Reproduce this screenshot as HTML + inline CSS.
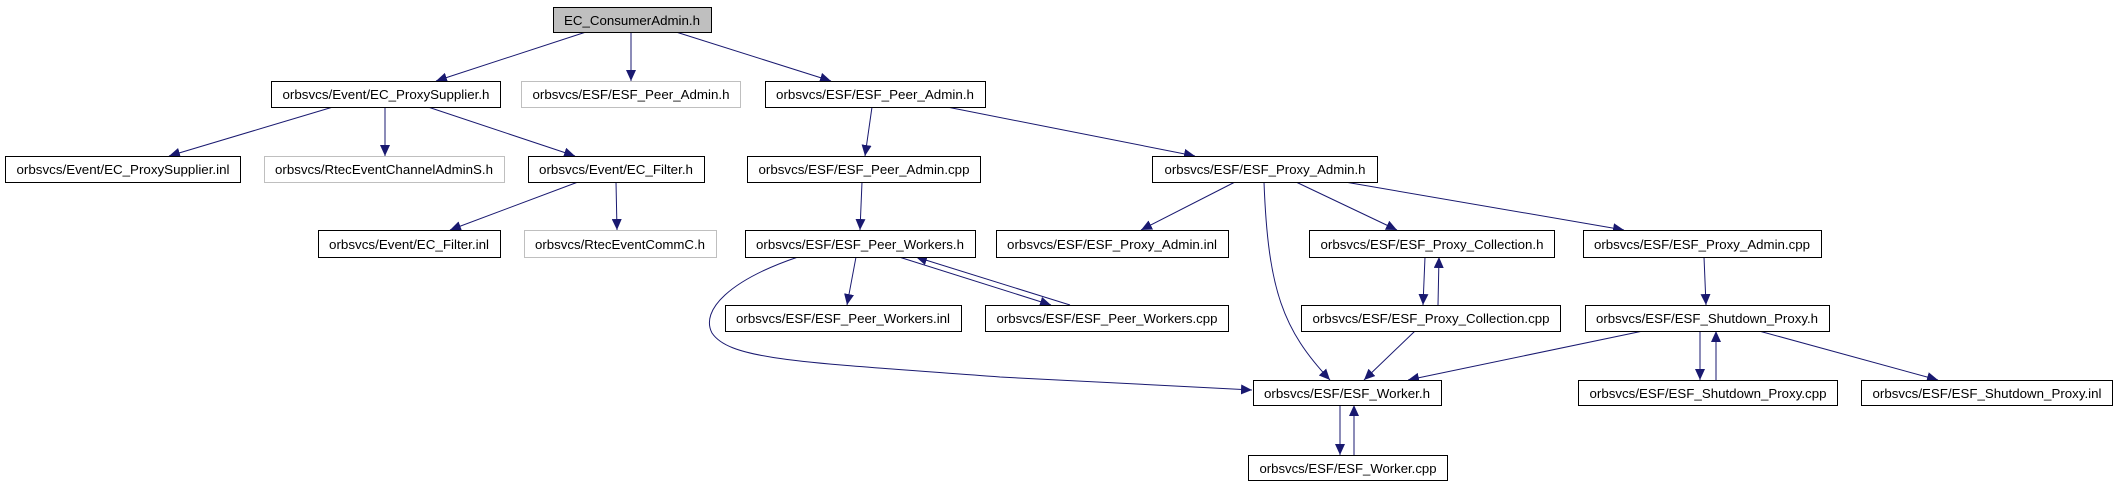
<!DOCTYPE html>
<html><head><meta charset="utf-8"><style>
html,body{margin:0;padding:0;background:#fff;}
svg{display:block;}
text{font-family:"Liberation Sans","DejaVu Sans",sans-serif;font-size:13px;fill:#000;}
</style></head><body>
<svg width="2116" height="485" viewBox="0 0 2116 485" xmlns="http://www.w3.org/2000/svg">
<defs>
<marker id="a" markerUnits="userSpaceOnUse" markerWidth="12" markerHeight="10" refX="11" refY="5" orient="auto">
<path d="M0,0 L11,5 L0,10 Z" fill="#191970"/>
</marker>
</defs>
<g fill="none" stroke="#191970" stroke-width="1" marker-end="url(#a)">
<line x1="586" y1="32" x2="436" y2="81"/>
<line x1="631" y1="32" x2="631" y2="81"/>
<line x1="676" y1="32" x2="831" y2="81"/>
<line x1="333" y1="107" x2="169" y2="156"/>
<line x1="385" y1="107" x2="385" y2="156"/>
<line x1="428" y1="107" x2="575" y2="156"/>
<line x1="578" y1="182" x2="450" y2="230"/>
<line x1="616" y1="182" x2="617" y2="230"/>
<line x1="872" y1="107" x2="865" y2="156"/>
<line x1="947" y1="107" x2="1195" y2="156"/>
<line x1="862" y1="182" x2="860" y2="230"/>
<line x1="1235" y1="182" x2="1141" y2="230"/>
<path d="M1264 182 C1268 290 1283 330 1330 380"/>
<line x1="1296" y1="182" x2="1397" y2="230"/>
<line x1="1345" y1="182" x2="1624" y2="230"/>
<path d="M798 257 C730 280 700 310 712 333 C730 360 800 362 1000 377 L1252 390"/>
<line x1="856" y1="257" x2="847" y2="305"/>
<line x1="899" y1="257" x2="1051" y2="305"/>
<line x1="1070" y1="305" x2="916" y2="257"/>
<line x1="1425" y1="257" x2="1423" y2="305"/>
<line x1="1438" y1="305" x2="1439" y2="257"/>
<line x1="1704" y1="257" x2="1706" y2="305"/>
<line x1="1415" y1="331" x2="1364" y2="380"/>
<line x1="1643" y1="331" x2="1408" y2="380"/>
<line x1="1700" y1="331" x2="1700" y2="380"/>
<line x1="1716" y1="380" x2="1716" y2="331"/>
<line x1="1759" y1="331" x2="1938" y2="380"/>
<line x1="1340" y1="405" x2="1340" y2="455"/>
<line x1="1354" y1="455" x2="1354" y2="405"/>
</g>
<g stroke-width="1">
<rect x="553.5" y="7.5" width="158" height="25" fill="#bfbfbf" stroke="#000"/>
<rect x="271.5" y="81.5" width="229" height="26" fill="#fff" stroke="#000"/>
<rect x="521.5" y="81.5" width="219" height="26" fill="#fff" stroke="#bfbfbf"/>
<rect x="765.5" y="81.5" width="220" height="26" fill="#fff" stroke="#000"/>
<rect x="5.5" y="156.5" width="235" height="26" fill="#fff" stroke="#000"/>
<rect x="264.5" y="156.5" width="240" height="26" fill="#fff" stroke="#bfbfbf"/>
<rect x="528.5" y="156.5" width="176" height="26" fill="#fff" stroke="#000"/>
<rect x="747.5" y="156.5" width="233" height="26" fill="#fff" stroke="#000"/>
<rect x="1152.5" y="156.5" width="225" height="26" fill="#fff" stroke="#000"/>
<rect x="318.5" y="230.5" width="182" height="27" fill="#fff" stroke="#000"/>
<rect x="524.5" y="230.5" width="192" height="27" fill="#fff" stroke="#bfbfbf"/>
<rect x="745.5" y="230.5" width="230" height="27" fill="#fff" stroke="#000"/>
<rect x="996.5" y="230.5" width="232" height="27" fill="#fff" stroke="#000"/>
<rect x="1309.5" y="230.5" width="245" height="27" fill="#fff" stroke="#000"/>
<rect x="1583.5" y="230.5" width="238" height="27" fill="#fff" stroke="#000"/>
<rect x="725.5" y="305.5" width="236" height="26" fill="#fff" stroke="#000"/>
<rect x="985.5" y="305.5" width="243" height="26" fill="#fff" stroke="#000"/>
<rect x="1301.5" y="305.5" width="259" height="26" fill="#fff" stroke="#000"/>
<rect x="1585.5" y="305.5" width="244" height="26" fill="#fff" stroke="#000"/>
<rect x="1253.5" y="380.5" width="188" height="25" fill="#fff" stroke="#000"/>
<rect x="1578.5" y="380.5" width="259" height="25" fill="#fff" stroke="#000"/>
<rect x="1861.5" y="380.5" width="251" height="25" fill="#fff" stroke="#000"/>
<rect x="1248.5" y="455.5" width="199" height="25" fill="#fff" stroke="#000"/>
</g>
<g text-anchor="middle" lengthAdjust="spacingAndGlyphs">
<text x="632" y="25" textLength="136" lengthAdjust="spacingAndGlyphs">EC_ConsumerAdmin.h</text>
<text x="386" y="99" textLength="207" lengthAdjust="spacingAndGlyphs">orbsvcs/Event/EC_ProxySupplier.h</text>
<text x="631" y="99" textLength="197" lengthAdjust="spacingAndGlyphs">orbsvcs/ESF/ESF_Peer_Admin.h</text>
<text x="875" y="99" textLength="198" lengthAdjust="spacingAndGlyphs">orbsvcs/ESF/ESF_Peer_Admin.h</text>
<text x="123" y="174" textLength="213" lengthAdjust="spacingAndGlyphs">orbsvcs/Event/EC_ProxySupplier.inl</text>
<text x="384" y="174" textLength="218" lengthAdjust="spacingAndGlyphs">orbsvcs/RtecEventChannelAdminS.h</text>
<text x="616" y="174" textLength="154" lengthAdjust="spacingAndGlyphs">orbsvcs/Event/EC_Filter.h</text>
<text x="864" y="174" textLength="211" lengthAdjust="spacingAndGlyphs">orbsvcs/ESF/ESF_Peer_Admin.cpp</text>
<text x="1265" y="174" textLength="201" lengthAdjust="spacingAndGlyphs">orbsvcs/ESF/ESF_Proxy_Admin.h</text>
<text x="409" y="249" textLength="160" lengthAdjust="spacingAndGlyphs">orbsvcs/Event/EC_Filter.inl</text>
<text x="620" y="249" textLength="170" lengthAdjust="spacingAndGlyphs">orbsvcs/RtecEventCommC.h</text>
<text x="860" y="249" textLength="208" lengthAdjust="spacingAndGlyphs">orbsvcs/ESF/ESF_Peer_Workers.h</text>
<text x="1112" y="249" textLength="210" lengthAdjust="spacingAndGlyphs">orbsvcs/ESF/ESF_Proxy_Admin.inl</text>
<text x="1432" y="249" textLength="223" lengthAdjust="spacingAndGlyphs">orbsvcs/ESF/ESF_Proxy_Collection.h</text>
<text x="1702" y="249" textLength="216" lengthAdjust="spacingAndGlyphs">orbsvcs/ESF/ESF_Proxy_Admin.cpp</text>
<text x="843" y="323" textLength="214" lengthAdjust="spacingAndGlyphs">orbsvcs/ESF/ESF_Peer_Workers.inl</text>
<text x="1107" y="323" textLength="221" lengthAdjust="spacingAndGlyphs">orbsvcs/ESF/ESF_Peer_Workers.cpp</text>
<text x="1431" y="323" textLength="237" lengthAdjust="spacingAndGlyphs">orbsvcs/ESF/ESF_Proxy_Collection.cpp</text>
<text x="1707" y="323" textLength="222" lengthAdjust="spacingAndGlyphs">orbsvcs/ESF/ESF_Shutdown_Proxy.h</text>
<text x="1347" y="398" textLength="166" lengthAdjust="spacingAndGlyphs">orbsvcs/ESF/ESF_Worker.h</text>
<text x="1708" y="398" textLength="237" lengthAdjust="spacingAndGlyphs">orbsvcs/ESF/ESF_Shutdown_Proxy.cpp</text>
<text x="1987" y="398" textLength="229" lengthAdjust="spacingAndGlyphs">orbsvcs/ESF/ESF_Shutdown_Proxy.inl</text>
<text x="1348" y="473" textLength="177" lengthAdjust="spacingAndGlyphs">orbsvcs/ESF/ESF_Worker.cpp</text>
</g>
</svg>
</body></html>
